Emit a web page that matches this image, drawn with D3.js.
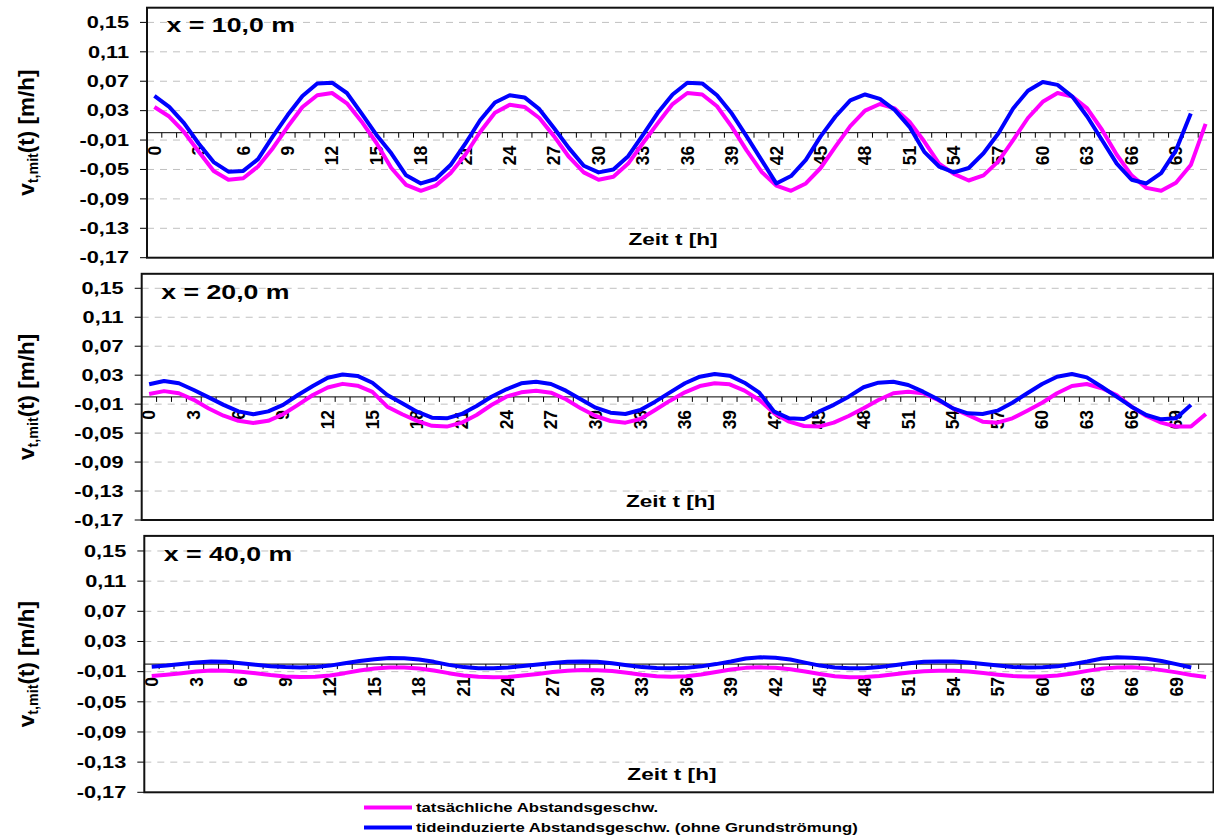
<!DOCTYPE html>
<html lang="de">
<head>
<meta charset="UTF-8">
<title>Abstandsgeschwindigkeit</title>
<script src="https://d3js.org/d3.v7.min.js"></script>
<style>
  body { margin: 0; background: #fff; }
  svg text { font-family: "Liberation Sans", Arial, sans-serif; font-weight: bold; fill: #000; }
</style>
</head>
<body>
<svg id="chart" width="1214" height="840"></svg>
<script>
// Zeit t [h], stündliche Kategorien
const hours = d3.range(0, 72);
const tickHours = [0, 3, 6, 9, 12, 15, 18, 21, 24, 27, 30, 33, 36, 39, 42, 45, 48, 51, 54, 57, 60, 63, 66, 69];
const yTicks = [0.15, 0.11, 0.07, 0.03, -0.01, -0.05, -0.09, -0.13, -0.17];
const titles = ["x = 10,0 m", "x = 20,0 m", "x = 40,0 m"];
const seriesNames = ["tatsächliche Abstandsgeschw.", "tideinduzierte Abstandsgeschw. (ohne Grundströmung)"];

// x = 10 m
const real10 = [0.035, 0.022, 0.001, -0.026, -0.052, -0.064, -0.062, -0.046, -0.021, 0.008,
  0.035, 0.051, 0.054, 0.040, 0.015, -0.014, -0.048, -0.071, -0.079, -0.072,
  -0.055, -0.030, 0.001, 0.027, 0.038, 0.035, 0.020, -0.005, -0.033, -0.054,
  -0.064, -0.060, -0.042, -0.014, 0.013, 0.039, 0.054, 0.052, 0.036, 0.008,
  -0.024, -0.053, -0.072, -0.079, -0.069, -0.048, -0.019, 0.009, 0.030, 0.039,
  0.033, 0.015, -0.012, -0.042, -0.056, -0.065, -0.058, -0.039, -0.010, 0.020,
  0.042, 0.054, 0.049, 0.033, 0.004, -0.030, -0.058, -0.075, -0.079, -0.068,
  -0.044, 0.012];
const tide10 = [0.050, 0.035, 0.013, -0.015, -0.040, -0.053, -0.052, -0.036, -0.005, 0.024,
  0.050, 0.067, 0.068, 0.054, 0.026, -0.003, -0.028, -0.058, -0.069, -0.063,
  -0.044, -0.015, 0.017, 0.041, 0.051, 0.048, 0.032, 0.006, -0.021, -0.045,
  -0.054, -0.050, -0.032, -0.003, 0.027, 0.052, 0.068, 0.067, 0.051, 0.026,
  -0.005, -0.037, -0.069, -0.059, -0.037, -0.005, 0.022, 0.044, 0.052, 0.046,
  0.031, 0.008, -0.026, -0.046, -0.054, -0.048, -0.028, -0.001, 0.033, 0.057,
  0.069, 0.065, 0.049, 0.022, -0.010, -0.042, -0.064, -0.069, -0.055, -0.024,
  0.026];

// x = 20 m
const real20 = [0.004, 0.008, 0.005, -0.004, -0.016, -0.026, -0.033, -0.036, -0.033, -0.024,
  -0.011, 0.0026, 0.013, 0.018, 0.0155, 0.007, -0.0135, -0.024, -0.033, -0.040,
  -0.041, -0.0356, -0.025, -0.0112, 0.0003, 0.0063, 0.0086, 0.0058, -0.0033, -0.0158,
  -0.0264, -0.0333, -0.0356, -0.0305, -0.0181, -0.0052, 0.0063, 0.015, 0.0188, 0.0174,
  0.0086, -0.0043, -0.0227, -0.0342, -0.0402, -0.041, -0.0356, -0.0264, -0.0158, -0.0043,
  0.005, 0.0072, 0.005, -0.0043, -0.0158, -0.025, -0.0342, -0.0356, -0.0296, -0.019,
  -0.008, 0.005, 0.015, 0.0178, 0.0119, 0.0026, -0.0135, -0.0264, -0.0356, -0.041,
  -0.041, -0.0236];
const tide20 = [0.0174, 0.022, 0.0188, 0.0095, -0.0006, -0.011, -0.020, -0.024, -0.020, -0.011,
  0.0026, 0.015, 0.0265, 0.031, 0.029, 0.0196, 0.0026, -0.0089, -0.0204, -0.0287,
  -0.0296, -0.0236, -0.0126, 0.0003, 0.0105, 0.0188, 0.021, 0.0178, 0.0086, -0.0033,
  -0.0149, -0.0218, -0.0236, -0.0181, -0.0066, 0.0063, 0.0188, 0.0279, 0.0316, 0.0293,
  0.0196, 0.0058, -0.0204, -0.0296, -0.0305, -0.0204, -0.011, 0.0003, 0.0133, 0.0196,
  0.021, 0.0164, 0.0072, -0.0033, -0.0158, -0.0227, -0.0236, -0.019, -0.008, 0.005,
  0.0178, 0.0279, 0.0316, 0.027, 0.014, 0.0003, -0.0135, -0.025, -0.031, -0.0296,
  -0.011];

// x = 40 m
const real40 = [-0.0158, -0.014, -0.012, -0.0098, -0.0086, -0.0087, -0.010, -0.012, -0.0145, -0.0163,
  -0.0172, -0.0168, -0.015, -0.012, -0.0085, -0.0058, -0.0045, -0.0044, -0.0058, -0.0085,
  -0.012, -0.015, -0.0168, -0.0175, -0.017, -0.0152, -0.013, -0.0105, -0.0088, -0.0079,
  -0.008, -0.0092, -0.0115, -0.014, -0.016, -0.0167, -0.016, -0.0138, -0.0105, -0.0072,
  -0.005, -0.0043, -0.0048, -0.0068, -0.0098, -0.013, -0.016, -0.0174, -0.0172, -0.0158,
  -0.0135, -0.011, -0.0095, -0.0088, -0.0088, -0.0098, -0.0118, -0.014, -0.0158, -0.0166,
  -0.0166, -0.0152, -0.0125, -0.009, -0.006, -0.0045, -0.0043, -0.0055, -0.008, -0.011,
  -0.0145, -0.0172];
const tide40 = [-0.0034, -0.002, 0.000, 0.002, 0.0035, 0.003, 0.001, -0.001, -0.003, -0.004,
  -0.0045, -0.004, -0.002, 0.001, 0.004, 0.0065, 0.008, 0.0078, 0.006, 0.003,
  -0.001, -0.004, -0.0055, -0.0055, -0.0045, -0.0025, -0.0005, 0.0015, 0.003, 0.0035,
  0.003, 0.001, -0.0015, -0.004, -0.0053, -0.0056, -0.005, -0.003, 0.000, 0.0035,
  0.0075, 0.009, 0.0085, 0.006, 0.002, -0.002, -0.0045, -0.0056, -0.0055, -0.004,
  -0.0015, 0.001, 0.003, 0.0035, 0.0033, 0.002, 0.000, -0.002, -0.0038, -0.0045,
  -0.0043, -0.003, 0.000, 0.0035, 0.0075, 0.009, 0.0085, 0.007, 0.004, 0.000,
  -0.0045];

const realSeries = [real10, real20, real40];
const tideSeries = [tide10, tide20, tide40];

// Plotflächen der drei Diagramme
const boxes = [
  { left: 147, right: 1213, top: 7.7, bottom: 257.7 },
  { left: 141.7, right: 1213.3, top: 273.8, bottom: 520 },
  { left: 144.3, right: 1213.5, top: 535.9, bottom: 792.3 }
];

const colReal = "#FF00FF";
const colTide = "#0000FF";

const fmt = d3.formatLocale({ decimal: ",", thousands: ".", grouping: [3], currency: ["", ""], minus: "-" }).format(".2f");

const svg = d3.select("#chart");

boxes.forEach((b, p) => {
  const x = d3.scaleBand().domain(hours).range([b.left, b.right]);
  const y = d3.scaleLinear().domain([-0.17, 0.17]).range([b.bottom, b.top]);
  const bw = x.bandwidth();
  const g = svg.append("g");

  // gestrichelte Gitterlinien
  g.selectAll(".grid").data(yTicks.filter(v => v > -0.17)).enter().append("line")
    .attr("x1", b.left).attr("x2", b.right)
    .attr("y1", d => y(d)).attr("y2", d => y(d))
    .attr("stroke", "#c0c0c0").attr("stroke-width", 1)
    .attr("stroke-dasharray", "7,6");

  // y-Achse
  g.selectAll(".ytick").data(yTicks).enter().append("line")
    .attr("x1", b.left - 7).attr("x2", b.left)
    .attr("y1", d => y(d)).attr("y2", d => y(d))
    .attr("stroke", "#000").attr("stroke-width", 1);

  g.selectAll(".ylab").data(yTicks).enter().append("text")
    .attr("transform", d => `translate(${b.left - 18},${y(d)}) scale(1.36,1)`)
    .attr("text-anchor", "end")
    .attr("dy", "0.36em")
    .style("font-size", "16px")
    .text(d => fmt(d));

  // x-Achse bei 0
  const y0 = y(0);
  g.append("line")
    .attr("x1", b.left).attr("x2", b.right)
    .attr("y1", y0).attr("y2", y0)
    .attr("stroke", "#000").attr("stroke-width", 1);

  g.selectAll(".xtick").data(hours).enter().append("line")
    .attr("x1", d => x(d)).attr("x2", d => x(d))
    .attr("y1", y0).attr("y2", y0 + 5)
    .attr("stroke", "#000").attr("stroke-width", 1);

  g.selectAll(".xlab").data(tickHours).enter().append("text")
    .attr("transform", d => `translate(${x(d) + bw / 2},${y0 + 13}) rotate(-90)`)
    .attr("text-anchor", "end")
    .attr("dy", "0.36em")
    .style("font-size", "17.5px")
    .text(d => d);

  // Linien
  const line = d3.line().x((d, i) => x(hours[i]) + bw / 2).y(d => y(d));
  g.append("path").datum(realSeries[p])
    .attr("d", line).attr("fill", "none")
    .attr("stroke", colReal).attr("stroke-width", 4).attr("stroke-linejoin", "round");
  g.append("path").datum(tideSeries[p])
    .attr("d", line).attr("fill", "none")
    .attr("stroke", colTide).attr("stroke-width", 4).attr("stroke-linejoin", "round");

  // Rahmen
  g.append("rect")
    .attr("x", b.left).attr("y", b.top)
    .attr("width", b.right - b.left).attr("height", b.bottom - b.top)
    .attr("fill", "none").attr("stroke", "#111").attr("stroke-width", 2);

  // Beschriftungen
  g.append("text")
    .attr("transform", `translate(${b.left + 19.5},${b.top + 24.7}) scale(1.37,1)`)
    .style("font-size", "19.5px")
    .text(titles[p]);

  g.append("text")
    .attr("transform", `translate(${(b.left + b.right) / 2 - 7},${b.bottom - 12.7}) scale(1.33,1)`)
    .attr("text-anchor", "middle")
    .style("font-size", "17px")
    .text("Zeit t [h]");

  const yt = g.append("text")
    .attr("transform", `translate(34,${y0}) rotate(-90) scale(1.02,1)`)
    .attr("text-anchor", "middle")
    .style("font-size", "22px");
  yt.append("tspan").text("v");
  yt.append("tspan").attr("dy", 4).style("font-size", "14px").text("t,mit");
  yt.append("tspan").attr("dy", -4).text("(t) [m/h]");
});

// Legende
const legend = svg.append("g");
const legendRows = [
  { name: seriesNames[0], color: colReal, y: 807.5 },
  { name: seriesNames[1], color: colTide, y: 827.5 }
];
legendRows.forEach(r => {
  legend.append("line")
    .attr("x1", 364).attr("x2", 412)
    .attr("y1", r.y).attr("y2", r.y)
    .attr("stroke", r.color).attr("stroke-width", 4);
  legend.append("text")
    .attr("transform", `translate(416,${r.y}) scale(1.24,1)`)
    .attr("dy", "0.36em")
    .style("font-size", "13.5px")
    .text(r.name);
});
</script>
</body>
</html>
